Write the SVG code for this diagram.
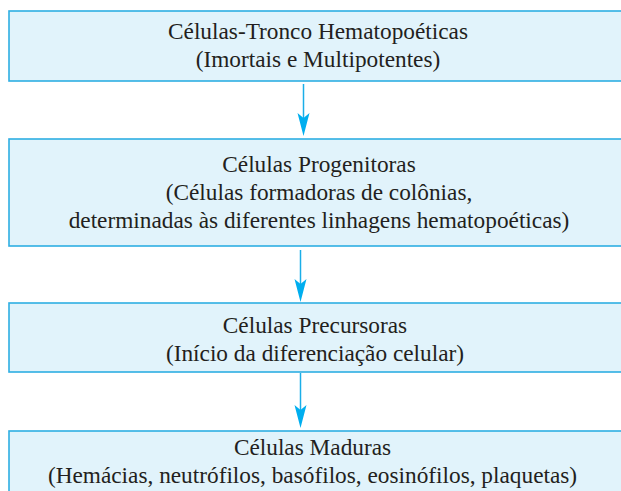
<svg xmlns="http://www.w3.org/2000/svg" width="621" height="491" viewBox="0 0 621 491">
<style>
.box{fill:#e1f3fb;stroke:#2eaee3;stroke-width:1.6}
.t{font-family:"Liberation Serif","Times New Roman",serif;font-size:23.3px;fill:#231f20;text-anchor:middle}
.ln{stroke:#1aaee8;stroke-width:1.5;fill:none}
.hd{fill:#00aeef}
</style>
<rect width="621" height="491" fill="#ffffff"/>
<g id="n1">
<rect class="box" x="9" y="11" width="630" height="70"/>
<text class="t" x="318" y="38.5">Células-Tronco Hematopoéticas</text>
<text class="t" x="318" y="66.5">(Imortais e Multipotentes)</text>
</g>
<g id="n2">
<rect class="box" x="9" y="139" width="630" height="107"/>
<text class="t" x="319" y="171.5">Células Progenitoras</text>
<text class="t" x="319" y="199.5">(Células formadoras de colônias,</text>
<text class="t" x="319" y="227.5">determinadas às diferentes linhagens hematopoéticas)</text>
</g>
<g id="n3">
<rect class="box" x="9" y="303" width="630" height="69"/>
<text class="t" x="315" y="332.5">Células Precursoras</text>
<text class="t" x="315" y="360.5">(Início da diferenciação celular)</text>
</g>
<g id="n4">
<rect class="box" x="9" y="431" width="630" height="80"/>
<text class="t" x="312.5" y="454.5">Células Maduras</text>
<text class="t" x="312.5" y="482.5">(Hemácias, neutrófilos, basófilos, eosinófilos, plaquetas)</text>
</g>
<g id="connectors">
<line class="ln" x1="303.5" y1="84" x2="303.5" y2="120"/>
<path class="hd" d="M303.5,136 L297.5,113 L303.5,118 L309.5,113 Z"/>
<line class="ln" x1="300.5" y1="250" x2="300.5" y2="285"/>
<path class="hd" d="M300.5,302 L294.5,279 L300.5,284 L306.5,279 Z"/>
<line class="ln" x1="300.5" y1="373" x2="300.5" y2="410"/>
<path class="hd" d="M300.5,428 L294.5,405 L300.5,410 L306.5,405 Z"/>
</g>
</svg>
